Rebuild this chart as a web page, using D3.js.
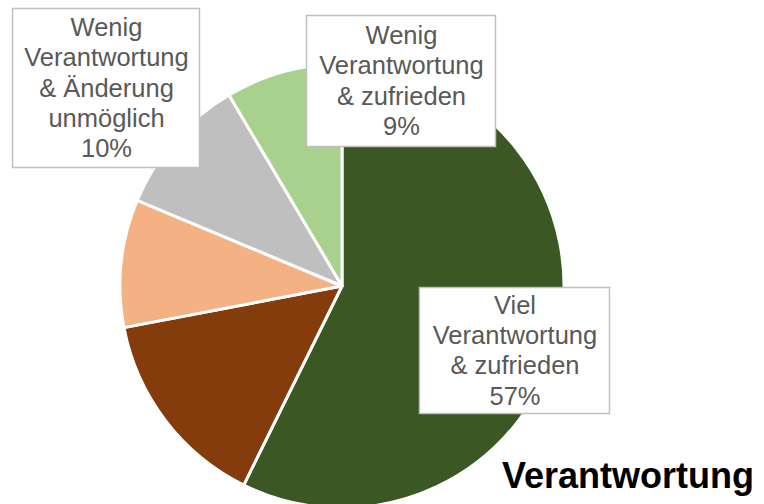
<!DOCTYPE html>
<html>
<head>
<meta charset="utf-8">
<script src="https://cdn.jsdelivr.net/npm/d3@7"></script>
<style>
  html, body { margin: 0; padding: 0; background: #fff; }
</style>
</head>
<body>
<svg id="chart" width="764" height="504"></svg>
<script>
// slices clockwise from 12 o'clock
var categories = [
    "Viel Verantwortung & zufrieden",
    "Viel Verantwortung & unzufrieden",
    "Wenig Verantwortung & Änderung möglich",
    "Wenig Verantwortung & Änderung unmöglich",
    "Wenig Verantwortung & zufrieden"
];
var shares = [57.3, 14.7, 9.3, 10.2, 8.5];
var shownPercent = ["57%", null, null, "10%", "9%"];
var labelLines = [
    ["Viel", "Verantwortung", "& zufrieden"],
    null,
    null,
    ["Wenig", "Verantwortung", "& Änderung", "unmöglich"],
    ["Wenig", "Verantwortung", "& zufrieden"]
];
var sliceColors = ["#3a5724", "#843c0c", "#f4b183", "#bfbfbf", "#a9d18e"];
var chartTitle = "Verantwortung";

(function () {
    var svg = d3.select("#chart");
    var cx = 342, cy = 286, radius = 222;

    var pie = d3.pie().sort(null).value(function (d) { return d; });
    var arc = d3.arc().innerRadius(0).outerRadius(radius);
    var arcs = pie(shares);

    var g = svg.append("g").attr("transform", "translate(" + cx + "," + cy + ")");
    g.selectAll("path.slice")
        .data(arcs)
        .enter().append("path")
        .attr("class", "slice")
        .attr("d", arc)
        .attr("fill", function (d, i) { return sliceColors[i]; })
        .attr("stroke", "#fff")
        .attr("stroke-width", 3)
        .attr("stroke-linejoin", "round");

    // data label boxes (placed by hand like in the original)
    var boxes = [
        {x: 419, y: 287, w: 190, h: 126},
        null,
        null,
        {x: 12, y: 8, w: 187, h: 159},
        {x: 306, y: 15, w: 189, h: 131}
    ];
    var fontSize = 25.5, lineHeight = 30.4;

    arcs.forEach(function (a, i) {
        var b = boxes[i];
        if (!b || !labelLines[i]) return;
        var lines = labelLines[i].concat([shownPercent[i]]);
        var lg = svg.append("g").attr("class", "label");
        lg.append("rect")
            .attr("x", b.x + 0.5).attr("y", b.y + 0.5)
            .attr("width", b.w).attr("height", b.h)
            .attr("fill", "#fff")
            .attr("stroke", "#bfbfbf")
            .attr("stroke-width", 1.5);
        var firstBase = b.y + b.h / 2 - (lines.length - 1) * lineHeight / 2 + fontSize * 0.36;
        lg.append("text")
            .attr("font-family", "Liberation Sans, Arial, sans-serif")
            .attr("font-size", fontSize)
            .attr("fill", "#595959")
            .attr("text-anchor", "middle")
            .selectAll("tspan")
            .data(lines)
            .enter().append("tspan")
            .attr("x", b.x + b.w / 2 + 1)
            .attr("y", function (d, k) { return firstBase + k * lineHeight; })
            .text(function (d) { return d; });
    });

    svg.append("text")
        .attr("x", 502)
        .attr("y", 488)
        .attr("font-family", "Liberation Sans, Arial, sans-serif")
        .attr("font-weight", "bold")
        .attr("font-size", 36)
        .attr("fill", "#000")
        .text(chartTitle);
}());
</script>
</body>
</html>
